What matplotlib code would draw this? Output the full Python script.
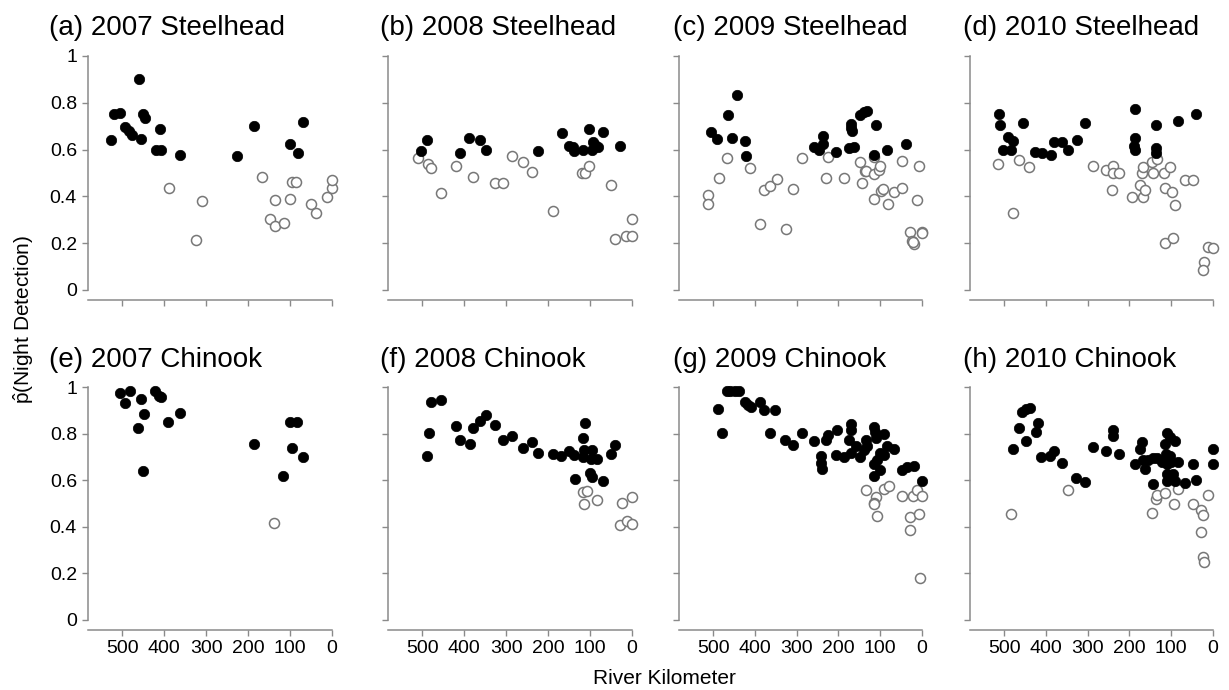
import numpy as np
import matplotlib
matplotlib.use("Agg")
import matplotlib.pyplot as plt

plt.rcParams['font.family'] = ['Liberation Sans', 'DejaVu Sans']
plt.rcParams['mathtext.fontset'] = 'custom'
plt.rcParams['mathtext.rm'] = 'Liberation Sans'
plt.rcParams['mathtext.it'] = 'Liberation Sans:italic'

# ---- data (river km, p-hat night detection) ----
# filled = significant, open = not significant
a_fill_km = [528, 520, 506, 494, 484, 478, 460, 456, 452, 447, 420, 411, 408, 363, 226, 187, 100, 81, 68]
a_fill_p = [0.64, 0.752, 0.757, 0.697, 0.68, 0.662, 0.90, 0.645, 0.752, 0.737, 0.60, 0.69, 0.60, 0.577, 0.571, 0.70, 0.623, 0.584, 0.719]
a_open_km = [388, 325, 309, 167, 148, 137, 135, 115, 101, 96, 85, 49, 39, 13, 0, 0]
a_open_p = [0.437, 0.214, 0.38, 0.484, 0.303, 0.384, 0.275, 0.285, 0.387, 0.461, 0.461, 0.367, 0.33, 0.396, 0.434, 0.47]

b_fill_km = [504, 490, 411, 388, 362, 348, 225, 168, 150, 140, 138, 116, 102, 95, 93, 88, 81, 69, 28]
b_fill_p = [0.595, 0.64, 0.584, 0.65, 0.64, 0.598, 0.595, 0.673, 0.615, 0.609, 0.595, 0.60, 0.69, 0.60, 0.633, 0.619, 0.609, 0.676, 0.615]
b_open_km = [511, 486, 479, 456, 420, 379, 327, 308, 287, 259, 239, 189, 119, 112, 102, 51, 40, 15, 1, 1]
b_open_p = [0.562, 0.538, 0.52, 0.416, 0.53, 0.484, 0.458, 0.458, 0.572, 0.548, 0.505, 0.337, 0.50, 0.50, 0.53, 0.448, 0.22, 0.23, 0.23, 0.305]

c_fill_km = [505, 492, 465, 443, 456, 424, 422, 258, 246, 238, 238, 206, 174, 171, 169, 167, 163, 149, 140, 132, 111, 116, 84, 38]
c_fill_p = [0.676, 0.645, 0.75, 0.833, 0.648, 0.636, 0.571, 0.612, 0.60, 0.659, 0.623, 0.589, 0.608, 0.709, 0.693, 0.679, 0.609, 0.75, 0.759, 0.764, 0.705, 0.578, 0.60, 0.622]
c_open_km = [513, 513, 486, 466, 411, 388, 379, 363, 348, 326, 309, 287, 231, 226, 187, 149, 144, 136, 133, 116, 116, 114,
             104, 100, 98, 93, 81, 68, 48, 48, 28, 24, 20, 21, 7, 12, 1, 0]
c_open_p = [0.407, 0.367, 0.477, 0.562, 0.52, 0.282, 0.427, 0.446, 0.474, 0.26, 0.431, 0.562, 0.477, 0.567, 0.477, 0.545, 0.456, 0.51, 0.51, 0.567, 0.387, 0.495,
            0.512, 0.53, 0.424, 0.43, 0.366, 0.42, 0.434, 0.551, 0.246, 0.21, 0.196, 0.206, 0.532, 0.384, 0.25, 0.245]

d_fill_km = [512, 511, 492, 480, 504, 484, 456, 426, 410, 388, 381, 361, 348, 326, 307, 187, 188, 189, 187, 137, 136, 136, 84, 40]
d_fill_p = [0.752, 0.705, 0.655, 0.638, 0.60, 0.60, 0.715, 0.589, 0.584, 0.577, 0.631, 0.633, 0.60, 0.643, 0.715, 0.772, 0.648, 0.615, 0.598, 0.705, 0.605, 0.584, 0.722, 0.752]
d_open_km = [515, 478, 464, 441, 287, 257, 239, 239, 225, 241, 193, 175, 171, 167, 167, 163, 147, 143, 134, 117, 115, 102,
             99, 92, 115, 96, 67, 49, 22, 24, 13, 0]
d_open_p = [0.537, 0.33, 0.555, 0.524, 0.532, 0.512, 0.532, 0.498, 0.498, 0.427, 0.399, 0.447, 0.501, 0.524, 0.399, 0.427, 0.545, 0.498, 0.561, 0.498, 0.436, 0.524,
            0.42, 0.363, 0.199, 0.221, 0.47, 0.47, 0.121, 0.085, 0.185, 0.181]

e_fill_km = [506, 494, 482, 456, 448, 462, 451, 423, 412, 408, 390, 363, 187, 116, 99, 83, 95, 68]
e_fill_p = [0.976, 0.933, 0.981, 0.95, 0.884, 0.823, 0.641, 0.983, 0.96, 0.955, 0.851, 0.889, 0.756, 0.62, 0.851, 0.851, 0.738, 0.698]
e_open_km = [138]
e_open_p = [0.416]

f_fill_km = [490, 484, 480, 456, 419, 411, 387, 379, 362, 348, 326, 308, 286, 259, 239, 225, 189, 169, 150, 138, 135, 112, 116,
             114, 116, 95, 97, 83, 100, 95, 69, 51, 40]
f_fill_p = [0.703, 0.804, 0.936, 0.943, 0.831, 0.774, 0.754, 0.826, 0.853, 0.879, 0.839, 0.774, 0.789, 0.739, 0.763, 0.717, 0.714, 0.703, 0.724, 0.71, 0.607, 0.847, 0.779,
            0.729, 0.70, 0.729, 0.689, 0.693, 0.629, 0.614, 0.596, 0.714, 0.75]
f_open_km = [118, 108, 114, 83, 24, 0, 29, 13, 0]
f_open_p = [0.549, 0.553, 0.50, 0.514, 0.503, 0.526, 0.407, 0.426, 0.411]

g_fill_km = [488, 478, 468, 459, 448, 439, 425, 417, 409, 388, 379, 351, 363, 327, 309, 287, 259, 242, 241, 240, 231, 225, 207, 203, 187,
             171, 171, 174, 169, 159, 148, 140, 134, 132, 116, 112, 109, 92, 116, 108, 100, 92, 116, 100, 84, 66, 49, 36, 20, 0]
g_fill_p = [0.907, 0.804, 0.981, 0.983, 0.983, 0.983, 0.936, 0.924, 0.914, 0.936, 0.90, 0.90, 0.804, 0.771, 0.749, 0.804, 0.767, 0.703, 0.674, 0.649, 0.771, 0.793, 0.707, 0.817, 0.70,
            0.843, 0.817, 0.771, 0.717, 0.746, 0.70, 0.729, 0.771, 0.746, 0.829, 0.807, 0.779, 0.80, 0.671, 0.686, 0.717, 0.707, 0.617, 0.643, 0.746, 0.736, 0.643, 0.657, 0.66, 0.597]
g_open_km = [134, 92, 80, 109, 116, 114, 108, 48, 22, 28, 6, 28, 12, 0, 4]
g_open_p = [0.557, 0.564, 0.576, 0.526, 0.504, 0.50, 0.447, 0.531, 0.531, 0.443, 0.457, 0.386, 0.557, 0.531, 0.181]

h_fill_km = [479, 464, 449, 457, 447, 439, 420, 424, 412, 390, 380, 362, 328, 307, 288, 257, 239, 239, 225, 187, 170, 174, 167, 163,
             143, 155, 143, 135, 123, 115, 111, 102, 92, 113, 102, 111, 100, 84, 111, 96, 111, 92, 68, 48, 40, 0, 0]
h_fill_p = [0.736, 0.823, 0.769, 0.893, 0.904, 0.911, 0.847, 0.807, 0.70, 0.704, 0.726, 0.673, 0.611, 0.593, 0.744, 0.726, 0.816, 0.79, 0.711, 0.671, 0.764, 0.733, 0.687, 0.647,
            0.583, 0.687, 0.694, 0.697, 0.676, 0.754, 0.804, 0.787, 0.769, 0.711, 0.704, 0.669, 0.68, 0.68, 0.626, 0.626, 0.597, 0.597, 0.59, 0.669, 0.60, 0.736, 0.669]
h_open_km = [484, 348, 147, 137, 135, 115, 94, 84, 49, 28, 24, 12, 28, 25, 22]
h_open_p = [0.454, 0.557, 0.461, 0.519, 0.536, 0.547, 0.50, 0.561, 0.50, 0.471, 0.451, 0.537, 0.376, 0.269, 0.247]

titles = ["(a) 2007 Steelhead", "(b) 2008 Steelhead", "(c) 2009 Steelhead", "(d) 2010 Steelhead",
          "(e) 2007 Chinook", "(f) 2008 Chinook", "(g) 2009 Chinook", "(h) 2010 Chinook"]
panels = [(a_fill_km, a_fill_p, a_open_km, a_open_p), (b_fill_km, b_fill_p, b_open_km, b_open_p),
          (c_fill_km, c_fill_p, c_open_km, c_open_p), (d_fill_km, d_fill_p, d_open_km, d_open_p),
          (e_fill_km, e_fill_p, e_open_km, e_open_p), (f_fill_km, f_fill_p, f_open_km, f_open_p),
          (g_fill_km, g_fill_p, g_open_km, g_open_p), (h_fill_km, h_fill_p, h_open_km, h_open_p)]
xticks = [500, 400, 300, 200, 100, 0]
yticks = [0, 0.2, 0.4, 0.6, 0.8, 1]
ytick_labels = ["0", "0.2", "0.4", "0.6", "0.8", "1"]

W, H = 1229, 690
fig = plt.figure(figsize=(W / 100, H / 100), dpi=100)

lefts = [88, 388, 679, 970]
widths = [244, 244, 243, 243]
tops = [56, 387]      # pixel y of p = 1
bottoms = [290, 620]  # pixel y of p = 0
title_x = [49, 380, 673, 963]
title_base = [35, 367]
gray = '#8a8a8a'

for i, (fk, fp, ok, op) in enumerate(panels):
    r, c = divmod(i, 4)
    ax = fig.add_axes([lefts[c] / W, 1 - bottoms[r] / H, widths[c] / W, (bottoms[r] - tops[r]) / H])
    ax.scatter(ok, op, s=52, facecolors='white', edgecolors='#777777', linewidths=1.1, clip_on=False, zorder=3)
    ax.scatter(fk, fp, s=56, color='black', edgecolors='black', linewidths=0.5, clip_on=False, zorder=4)
    ax.set_xlim(582, 0)
    ax.set_ylim(0, 1)
    for s in ['top', 'right']:
        ax.spines[s].set_visible(False)
    ax.spines['left'].set_bounds(0, 1)
    ax.spines['bottom'].set_position(('outward', 7.5))
    for s in ['left', 'bottom']:
        ax.spines[s].set_color(gray)
        ax.spines[s].set_linewidth(1.1)
    ax.set_xticks(xticks)
    ax.set_yticks(yticks)
    ax.tick_params(axis='both', color=gray, length=4, width=1.0, labelsize=14)
    ax.tick_params(axis='y', pad=4)
    ax.tick_params(axis='x', pad=3)
    if c == 0:
        ax.set_yticklabels(ytick_labels)
    else:
        ax.set_yticklabels([])
    if r == 1:
        ax.set_xticklabels([str(x) for x in xticks])
    else:
        ax.set_xticklabels([])
    fig.text(title_x[c] / W, 1 - title_base[r] / H, titles[i], fontsize=20, ha='left', va='baseline')

fig.text(24 / W, 1 - 320 / H, r'$\hat{\mathrm{p}}$(Night Detection)', rotation=90, fontsize=15, ha='center', va='center')
fig.text(664 / W, 1 - 678 / H, "River Kilometer", fontsize=15, ha='center', va='center')

fig.savefig("out.png", dpi=100)
